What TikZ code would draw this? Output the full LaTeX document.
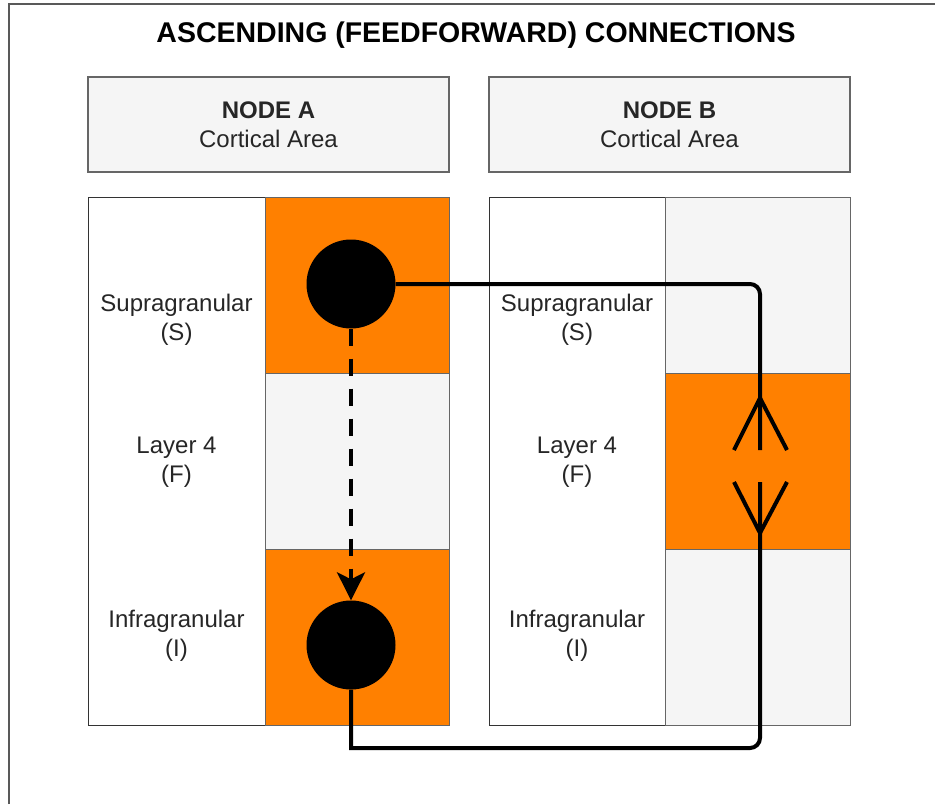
\documentclass[tikz,border=0pt]{standalone}
\usepackage{fontspec}
\setmainfont{Liberation Sans}
\usetikzlibrary{arrows.meta}
\definecolor{orangeF}{HTML}{FF8000}
\definecolor{cellgray}{HTML}{F5F5F5}
\definecolor{edgegray}{HTML}{666666}
\definecolor{framegray}{HTML}{595959}
\begin{document}
\begin{tikzpicture}[x=1pt,y=-1pt,
  txt/.style={font=\fontsize{24}{29}\selectfont, align=center, text=black!85},
  hdr/.style={draw=edgegray, fill=cellgray, line width=1.2pt, minimum width=361pt, minimum height=95pt, inner sep=0pt, txt},
  labcol/.style={draw=black!80, fill=white, line width=1.2pt, minimum height=528pt, inner sep=0pt, anchor=north west},
  cell/.style={draw=edgegray, line width=1.2pt, minimum height=176pt, inner sep=0pt, anchor=north west},
  orangecell/.style={cell, fill=orangeF},
  graycell/.style={cell, fill=cellgray},
  soma/.style={circle, fill=black, minimum size=89pt, inner sep=0pt},
  conn/.style={line width=4pt, black},
  frame/.style={line width=2pt, framegray}
]
\useasboundingbox (0,0) rectangle (935,804);
\draw[frame] (9,804) -- (9,4) -- (935,4);

\node[anchor=base, font=\fontsize{28.5}{34}\selectfont\bfseries] (title) at (476,42.7) {ASCENDING (FEEDFORWARD) CONNECTIONS};

% headers
\node[hdr] (hA) at (268.5,124.5) {\textbf{NODE A}\\Cortical Area};
\node[hdr] (hB) at (669.5,124.5) {\textbf{NODE B}\\Cortical Area};

% Node A column
\node[labcol, minimum width=177pt] (colA) at (88,197) {};
\node[orangecell, minimum width=184pt] (aS) at (265,197) {};
\node[graycell, minimum width=184pt] (aF) at (265,373) {};
\node[orangecell, minimum width=184pt] (aI) at (265,549) {};

% Node B column
\node[labcol, minimum width=176pt] (colB) at (489,197) {};
\node[graycell, minimum width=185pt] (bS) at (665,197) {};
\node[orangecell, minimum width=185pt] (bF) at (665,373) {};
\node[graycell, minimum width=185pt] (bI) at (665,549) {};

% labels
\node[txt] (lAS) at (176.5,320) {Supragranular\\(S)};
\node[txt] (lAF) at (176.5,462) {Layer 4\\(F)};
\node[txt] (lAI) at (176.5,636) {Infragranular\\(I)};
\node[txt] (lBS) at (577,320) {Supragranular\\(S)};
\node[txt] (lBF) at (577,462) {Layer 4\\(F)};
\node[txt] (lBI) at (577,636) {Infragranular\\(I)};

% neurons
\node[soma] (nS) at (351,284) {};
\node[soma] (nI) at (351,645) {};

% coordinates for connector ends
\coordinate (topEnd) at (760,450);
\coordinate (topApex) at (760,398);
\coordinate (botEnd) at (760,482);
\coordinate (botApex) at (760,533);
\coordinate (botLeft) at (351,748);

% dashed arrow
\draw[conn, dash pattern=on 17pt off 13pt, -{Stealth[length=28pt,width=28pt,inset=7pt]}] (nS.south) -- (nI.north);

% feedforward connection
\draw[conn, rounded corners=10pt] (nS.east) -| (topEnd);
\draw[conn] (nI.south) -- (botLeft) [rounded corners=10pt] -| (botEnd);

% crow's feet
\draw[conn] (topApex) -- ++(-26,52);
\draw[conn] (topApex) -- ++(27,52);
\draw[conn] (botApex) -- ++(-26,-51);
\draw[conn] (botApex) -- ++(27,-51);
\end{tikzpicture}
\end{document}
